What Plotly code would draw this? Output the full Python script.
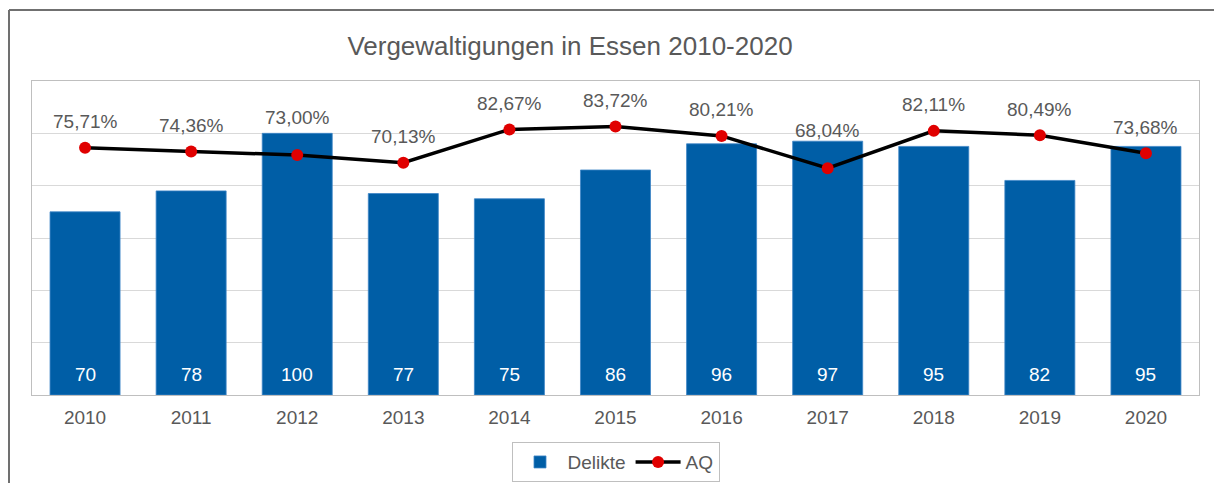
import plotly.graph_objects as go

years = ["2010", "2011", "2012", "2013", "2014", "2015", "2016", "2017", "2018", "2019", "2020"]
delikte = [70, 78, 100, 77, 75, 86, 96, 97, 95, 82, 95]
aq = [0.7571, 0.7436, 0.7300, 0.7013, 0.8267, 0.8372, 0.8021, 0.6804, 0.8211, 0.8049, 0.7368]
aq_labels = ["75,71%", "74,36%", "73,00%", "70,13%", "82,67%", "83,72%", "80,21%", "68,04%", "82,11%", "80,49%", "73,68%"]
title_text = "Vergewaltigungen in Essen 2010-2020"

FONT = "Liberation Sans, Arial, sans-serif"
GREY_TXT = "#595959"
BAR_COLOR = "#005EA6"

fig = go.Figure()
fig.add_trace(go.Bar(
    x=years, y=delikte, name="Delikte",
    marker=dict(color=BAR_COLOR, line=dict(color="#3d85c6", width=0.8)),
))
fig.add_trace(go.Scatter(
    x=years, y=aq, name="AQ", yaxis="y2", mode="lines+markers",
    line=dict(color="black", width=3.5),
    marker=dict(color="#E00000", size=12),
))

# bar value labels near the base of each bar
for i, v in enumerate(delikte):
    fig.add_annotation(x=i, y=0, xref="x", yref="y", text=str(v), showarrow=False,
                       yshift=21, yanchor="middle",
                       font=dict(size=19, color="white", family=FONT))

# data labels above the AQ points (two labels lifted above their bars)
lifted = {"2012", "2017"}
for i, (yr, v, lab) in enumerate(zip(years, aq, aq_labels)):
    fig.add_annotation(x=i, y=v, xref="x", yref="y2", text=lab, showarrow=False,
                       yshift=38 if yr in lifted else 26,
                       font=dict(size=19, color=GREY_TXT, family=FONT))

fig.update_layout(
    width=1214, height=483,
    margin=dict(l=32, r=15, t=81, b=88, autoexpand=False),
    paper_bgcolor="white", plot_bgcolor="white",
    font=dict(family=FONT, color=GREY_TXT, size=19),
    title=dict(text=title_text, x=570/1214, xanchor="center", y=1-46/483, yanchor="middle",
               yref="container", font=dict(size=26, color=GREY_TXT, family=FONT)),
    bargap=0.34,
    showlegend=True,
    legend=dict(orientation="h", x=0.5, xref="paper", xanchor="center", y=-0.15, yanchor="top",
                bordercolor="#bfbfbf", borderwidth=1, font=dict(size=19, color=GREY_TXT),
                traceorder="normal", itemwidth=45),
    xaxis=dict(type="category", range=[-0.5, len(years) - 0.5], showgrid=False, showline=True,
               linecolor="#bfbfbf", mirror=True,
               ticks="", tickfont=dict(size=19, color=GREY_TXT), ticklabelstandoff=5),
    yaxis=dict(range=[0, 120], dtick=20, showticklabels=False, gridcolor="#d9d9d9",
               zeroline=False, showline=True, linecolor="#bfbfbf", mirror=True),
    yaxis2=dict(range=[-0.174, 1.009], overlaying="y", side="right", showgrid=False,
                showticklabels=False, zeroline=False, showline=False),
    shapes=[
        dict(type="line", xref="paper", yref="paper", x0=-23/1167, x1=1.2, y0=1+71/314, y1=1+71/314,
             line=dict(color="#707070", width=2)),
        dict(type="line", xref="paper", yref="paper", x0=-23/1167, x1=-23/1167, y0=1+71/314, y1=-0.5,
             line=dict(color="#707070", width=2)),
    ],
)

fig.write_html("out.html", config={"displayModeBar": False},
               post_script="document.body.style.margin='0px';document.body.style.padding='0px';")
